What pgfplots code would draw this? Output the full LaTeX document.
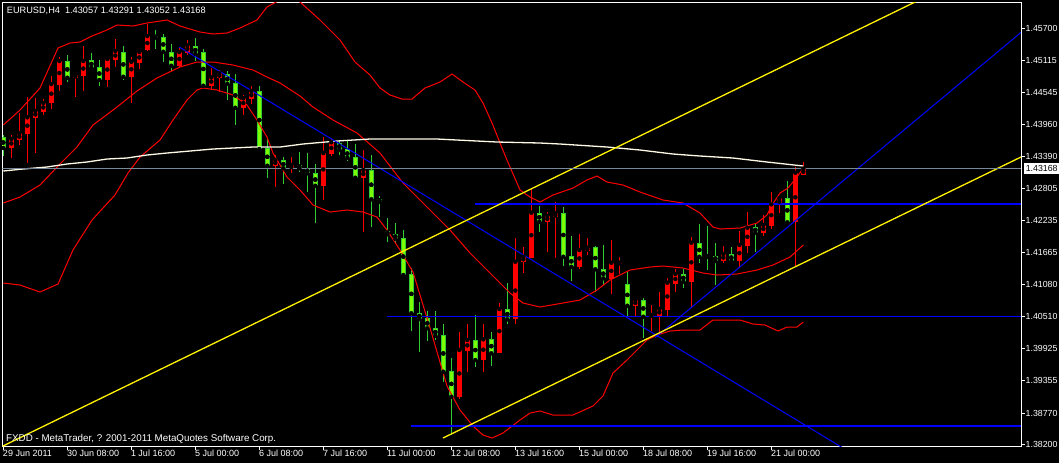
\documentclass[border=0pt]{standalone}
\usepackage{pgfplots}
\pgfplotsset{compat=1.18}
\usepackage{pgfplotstable}
\usepackage{fontspec}
\setmainfont{Liberation Sans}

\definecolor{limefill}{RGB}{124,252,0}
\definecolor{limeedge}{RGB}{50,205,50}
\definecolor{bidgray}{RGB}{119,136,153}
\definecolor{macol}{RGB}{255,250,230}

% bullish (red) candles: bar index, open, high, low, close
\pgfplotstableread{
k O H L C
1 1.43545 1.43774 1.43365 1.43702
2 1.43684 1.44165 1.43594 1.43805
3 1.43792 1.44463 1.43275 1.44093
4 1.44085 1.44435 1.43445 1.44206
5 1.44193 1.44422 1.44134 1.44350
6 1.44345 1.44836 1.44242 1.44692
7 1.44674 1.45173 1.44571 1.45106
9 1.44805 1.44885 1.44463 1.44854
10 1.44836 1.45376 1.44571 1.45106
13 1.44764 1.45173 1.44643 1.45142
14 1.45124 1.45502 1.45003 1.45286
16 1.44823 1.45183 1.44355 1.45093
17 1.45075 1.45291 1.44967 1.45268
18 1.45304 1.45772 1.45286 1.45556
22 1.45021 1.45363 1.45003 1.45268
23 1.45255 1.45484 1.45214 1.45389
26 1.44661 1.44975 1.44584 1.44813
27 1.44805 1.44944 1.44553 1.44885
30 1.44265 1.44489 1.44134 1.44435
31 1.44422 1.44661 1.44332 1.44566
34 1.43221 1.43414 1.42843 1.43324
36 1.43162 1.43373 1.43095 1.43234
40 1.42861 1.43733 1.42604 1.43450
41 1.43437 1.43702 1.43401 1.43643
45 1.43005 1.43504 1.42033 1.43144
57 1.39063 1.40223 1.39017 1.39904
58 1.39891 1.40372 1.39503 1.40084
60 1.39724 1.40372 1.39503 1.40097
62 1.39845 1.40745 1.39845 1.40642
64 1.40457 1.41925 1.40367 1.41493
65 1.41493 1.41763 1.41295 1.41583
66 1.41565 1.42815 1.41565 1.42375
68 1.42213 1.42393 1.41673 1.42321
69 1.42293 1.42573 1.41565 1.42365
72 1.41403 1.41992 1.41357 1.41704
73 1.41686 1.41915 1.41614 1.41745
76 1.41182 1.41884 1.40912 1.41475
77 1.41452 1.41573 1.41272 1.41475
79 1.40701 1.40845 1.40503 1.40804
81 1.40503 1.40714 1.40246 1.40534
82 1.40521 1.40943 1.40174 1.40642
83 1.40624 1.41205 1.40521 1.41115
84 1.41092 1.41362 1.40943 1.41272
86 1.41133 1.41933 1.40683 1.41835
90 1.41506 1.41776 1.41465 1.41632
92 1.41506 1.42046 1.41403 1.41794
93 1.41781 1.42393 1.41645 1.42105
95 1.42015 1.42334 1.41956 1.42154
96 1.42136 1.42753 1.42082 1.42527
97 1.42514 1.42663 1.42375 1.42635
99 1.42213 1.43193 1.41393 1.43095
100 1.43057 1.43291 1.43052 1.43168
}\redtab

% bearish (lime) candles
\pgfplotstableread{
k O H L C
0 1.43738 1.43774 1.43396 1.43540
8 1.45106 1.45214 1.44733 1.44805
11 1.45124 1.45255 1.44944 1.44985
12 1.44998 1.45124 1.44661 1.44764
15 1.45268 1.45376 1.44764 1.44823
19 1.45556 1.45664 1.45317 1.45525
20 1.45538 1.45592 1.45093 1.45273
21 1.45273 1.45412 1.44926 1.45021
24 1.45371 1.45515 1.45111 1.45237
25 1.45268 1.45317 1.44643 1.44661
28 1.44867 1.44926 1.44404 1.44697
29 1.44710 1.44872 1.43954 1.44265
32 1.44566 1.44656 1.43504 1.43522
33 1.43545 1.43715 1.43005 1.43221
35 1.43324 1.43373 1.42892 1.43175
37 1.43234 1.43463 1.43113 1.43175
38 1.43175 1.43445 1.42753 1.43085
39 1.43085 1.43252 1.42195 1.42861
42 1.43625 1.43671 1.43419 1.43509
43 1.43517 1.43671 1.43311 1.43365
44 1.43378 1.43612 1.42995 1.43005
46 1.43144 1.43414 1.42123 1.42617
47 1.42622 1.42676 1.42303 1.42573
48 1.42046 1.42275 1.41853 1.41987
49 1.41987 1.42185 1.41812 1.41907
50 1.41920 1.42064 1.41223 1.41254
51 1.41267 1.41375 1.40251 1.40565
52 1.40565 1.40763 1.39863 1.40462
53 1.40475 1.40611 1.40071 1.40295
54 1.40295 1.40611 1.40084 1.40161
55 1.40174 1.40372 1.39323 1.39513
56 1.39526 1.39755 1.38374 1.39063
59 1.40084 1.40534 1.39603 1.39724
61 1.40102 1.40233 1.39621 1.39845
63 1.40642 1.41110 1.40367 1.40457
67 1.42375 1.42501 1.42033 1.42213
70 1.42365 1.42483 1.41421 1.41583
71 1.41596 1.41961 1.41151 1.41403
74 1.41763 1.41776 1.40953 1.41357
75 1.41362 1.41794 1.41074 1.41195
78 1.41092 1.41326 1.40503 1.40701
80 1.40804 1.40845 1.40115 1.40503
85 1.41272 1.41362 1.41025 1.41133
87 1.41825 1.42172 1.41475 1.41583
88 1.41596 1.42136 1.41344 1.41583
89 1.41596 1.41825 1.41074 1.41506
91 1.41632 1.41753 1.41475 1.41506
94 1.42113 1.42195 1.41673 1.42015
98 1.42635 1.42951 1.42172 1.42203
}\limetab

\begin{document}
\begin{tikzpicture}[x=1pt,y=1pt]
\fill[black] (-2.5,-16.7) rectangle (1056.5,446.3);
\begin{axis}[
  at={(0,0)}, anchor=south west, scale only axis,
  width=1018.5pt, height=444pt,
  xmin=-0.1, xmax=127.2125, ymin=1.38171, ymax=1.46163,
  axis line style={white, line width=1pt},
  tick style={white, line width=1pt},
  tick align=outside, major tick length=3.5pt,
  xtick={0,8,16,24,32,40,48,56,64,72,80,88,96},
  xticklabels={29 Jun 2011, 30 Jun 08:00, 1 Jul 16:00, 5 Jul 00:00, 6 Jul 08:00, 7 Jul 16:00, 11 Jul 00:00, 12 Jul 08:00, 13 Jul 16:00, 15 Jul 00:00, 18 Jul 08:00, 19 Jul 16:00, 21 Jul 00:00},
  ytick={1.382,1.3877,1.39355,1.39925,1.4051,1.4108,1.41665,1.42235,1.42805,1.4339,1.4396,1.44545,1.45115,1.457},
  xtick pos=left, ytick pos=right, yticklabel pos=right,
  scaled y ticks=false,
  y tick label style={/pgf/number format/fixed, /pgf/number format/fixed zerofill, /pgf/number format/precision=5, /pgf/number format/assume math mode=true,
     anchor=west, inner sep=0pt, xshift=1pt, font=\fontsize{8.8}{10}\selectfont, text=white},
  x tick label style={anchor=north west, inner sep=0pt, xshift=-0.5pt, font=\fontsize{9}{10}\selectfont, text=white},
  clip=true,
]
% wicks
\addplot[only marks, mark=none, forget plot, error bars/.cd, y dir=both, y explicit, error mark=none,
  error bar style={draw=red, line width=1pt}]
  table[x=k, y=C, y error plus expr=\thisrow{H}-\thisrow{C}, y error minus expr=\thisrow{C}-\thisrow{L}] {\redtab};
\addplot[only marks, mark=none, forget plot, error bars/.cd, y dir=both, y explicit, error mark=none,
  error bar style={draw=limeedge, line width=1pt}]
  table[x=k, y=C, y error plus expr=\thisrow{H}-\thisrow{C}, y error minus expr=\thisrow{C}-\thisrow{L}] {\limetab};
% bodies
\addplot[only marks, mark=none, forget plot, error bars/.cd, y dir=both, y explicit, error mark=none,
  error bar style={draw=red, line width=5pt}]
  table[x=k, y expr=(\thisrow{O}+\thisrow{C})/2, y error expr=(\thisrow{C}-\thisrow{O})/2] {\redtab};
\addplot[only marks, mark=none, forget plot, error bars/.cd, y dir=both, y explicit, error mark=none,
  error bar style={draw=limeedge, line width=5pt}]
  table[x=k, y expr=(\thisrow{O}+\thisrow{C})/2, y error expr=(\thisrow{O}-\thisrow{C})/2] {\limetab};
\addplot[only marks, mark=none, forget plot, error bars/.cd, y dir=both, y explicit, error mark=none,
  error bar style={draw=limefill, line width=3pt, shorten <=1pt, shorten >=1pt}]
  table[x=k, y expr=(\thisrow{O}+\thisrow{C})/2, y error expr=(\thisrow{O}-\thisrow{C})/2] {\limetab};

% Bollinger upper
\addplot[red, line width=1pt] coordinates {(0,1.43954) (2.09,1.44224) (4.59,1.44620) (6.84,1.45340) (8.34,1.45430) (9.59,1.45448) (11.09,1.45556) (12.96,1.45664) (14.21,1.45754) (16.21,1.45736) (17.96,1.45790) (20.46,1.45844) (22.09,1.45736) (24.59,1.45628) (26.21,1.45592) (27.96,1.45610) (29.59,1.45700) (31.71,1.45844) (32.96,1.46078) (34.34,1.46186) (35.59,1.46276) (37.09,1.46168) (39.59,1.45844) (42.09,1.45484) (43.96,1.45088) (45.84,1.44854) (47.09,1.44620) (48.34,1.44494) (49.84,1.44422) (51.09,1.44422) (52.71,1.44620) (54.59,1.44728) (56.09,1.44872) (57.46,1.44728) (58.96,1.44584) (59.96,1.44350) (61.09,1.43990) (62.09,1.43630) (62.96,1.43324) (64.59,1.42784) (65.84,1.42658) (67.09,1.42568) (68.71,1.42694) (71.21,1.42820) (72.96,1.42964) (74.21,1.43036) (75.46,1.42928) (77.46,1.42874) (79.59,1.42748) (82.46,1.42604) (84.96,1.42550) (87.09,1.42370) (88.71,1.42118) (89.59,1.42082) (92.09,1.42100) (94.21,1.42190) (95.46,1.42334) (96.09,1.42514) (97.09,1.42730) (98.09,1.42820) (99.21,1.43018) (100,1.43180)};
% Bollinger middle
\addplot[red, line width=1pt] coordinates {(0,1.42550) (2.09,1.42658) (4.59,1.42874) (6.84,1.43216) (9.21,1.43558) (11.21,1.43954) (14.21,1.44278) (16.71,1.44566) (19.21,1.44800) (22.09,1.44998) (24.21,1.45088) (26.21,1.45088) (28.71,1.45034) (31.21,1.44944) (32.96,1.44818) (34.59,1.44710) (37.09,1.44476) (38.71,1.44278) (41.21,1.44044) (44.21,1.43810) (47.09,1.43450) (49.96,1.42910) (52.96,1.42478) (55.84,1.42064) (58.34,1.41650) (60.84,1.41290) (63.34,1.40930) (64.96,1.40750) (67.09,1.40678) (69.96,1.40750) (72.09,1.40804) (74.21,1.40984) (75.84,1.41164) (78.34,1.41344) (80.84,1.41398) (82.46,1.41416) (84.96,1.41380) (87.46,1.41290) (89.21,1.41254) (91.71,1.41272) (94.21,1.41344) (96.21,1.41434) (98.34,1.41578) (100,1.41794)};
% Bollinger lower
\addplot[red, line width=1pt] coordinates {(0,1.41110) (2.09,1.41074) (4.59,1.40948) (6.84,1.41092) (8.71,1.41704) (11.09,1.42244) (12.46,1.42460) (13.96,1.42694) (15.59,1.43090) (17.09,1.43378) (19.59,1.43684) (21.21,1.44044) (22.96,1.44404) (24.21,1.44584) (24.96,1.44620) (26.71,1.44584) (28.71,1.44494) (30.46,1.44314) (31.71,1.44044) (32.96,1.43738) (33.71,1.43450) (35.46,1.43018) (37.09,1.42784) (38.71,1.42514) (40.84,1.42388) (42.96,1.42424) (44.96,1.42388) (46.71,1.42298) (47.96,1.42064) (49.59,1.41704) (51.21,1.41308) (52.09,1.40894) (53.34,1.40300) (55.46,1.39256) (57.09,1.38824) (58.71,1.38536) (59.96,1.38374) (61.09,1.38320) (62.46,1.38410) (64.59,1.38644) (65.84,1.38770) (67.09,1.38806) (68.71,1.38734) (71.21,1.38734) (73.71,1.38896) (74.96,1.39076) (76.21,1.39490) (77.96,1.39724) (79.21,1.39904) (80.46,1.40084) (81.71,1.40174) (83.34,1.40246) (84.96,1.40264) (87.09,1.40264) (88.71,1.40444) (92.09,1.40444) (93.71,1.40372) (95.21,1.40354) (96.84,1.40246) (97.96,1.40318) (99.21,1.40318) (100,1.40408)};
% long moving average
\addplot[macol, line width=1.3pt] coordinates {(0,1.43126) (2.46,1.43162) (5.46,1.43198) (7.96,1.43252) (10.46,1.43288) (12.96,1.43342) (15.46,1.43360) (17.96,1.43414) (20.46,1.43450) (23.34,1.43486) (26.21,1.43522) (28.71,1.43540) (31.21,1.43558) (34.59,1.43558) (37.46,1.43612) (41.71,1.43666) (45.84,1.43702) (49.96,1.43702) (54.21,1.43702) (56.71,1.43684) (61.71,1.43648) (67.09,1.43630) (69.59,1.43612) (75.46,1.43558) (79.59,1.43504) (83.71,1.43432) (87.09,1.43396) (91.21,1.43360) (95.46,1.43288) (100,1.43216)};
% horizontal levels (blue)
\addplot[blue, line width=1.6pt] coordinates {(58.96,1.42532) (127.2125,1.42532)};
\addplot[blue, line width=1.6pt] coordinates {(47.96,1.40510) (127.2125,1.40510)};
\addplot[blue, line width=1.6pt] coordinates {(50.96,1.38536) (127.2125,1.38536)};
% trend lines (blue)
\addplot[blue, line width=1pt] coordinates {(22,1.45358) (127.2125,1.36204)};
\addplot[blue, line width=1pt] coordinates {(81.5,1.40129) (127.2125,1.45621)};
% channel (yellow)
\addplot[yellow, line width=1.3pt] coordinates {(-0.1,1.38172) (127.2125,1.47096)};
\addplot[yellow, line width=1.3pt] coordinates {(54.96,1.38320) (127.2125,1.43378)};
% bid line
\addplot[bidgray, line width=1pt] coordinates {(-0.1,1.43168) (127.2125,1.43168)};
\coordinate (cp) at (axis cs:127.2125,1.43168);
\end{axis}
\node[fill=white, text=black, anchor=west, inner xsep=2.3pt, inner ysep=0pt, minimum height=10.4pt,
  font=\fontsize{8.8}{10}\selectfont] at ([xshift=2.3pt]cp) {1.43168};
\node[anchor=north west, inner sep=0pt, text=white, font=\fontsize{9.2}{11}\selectfont]
  at (4.2,439.6) {EURUSD,H4\hspace{5pt}1.43057 1.43291 1.43052 1.43168};
\node[anchor=base west, inner sep=0pt, text=white, font=\fontsize{9.8}{11}\selectfont]
  at (3.5,4.8) {FXDD - MetaTrader, ? 2001-2011 MetaQuotes Software Corp.};
\pgfresetboundingbox
\path[use as bounding box] (-2.5,-16.7) rectangle (1056.5,446.3);
\end{tikzpicture}
\end{document}
